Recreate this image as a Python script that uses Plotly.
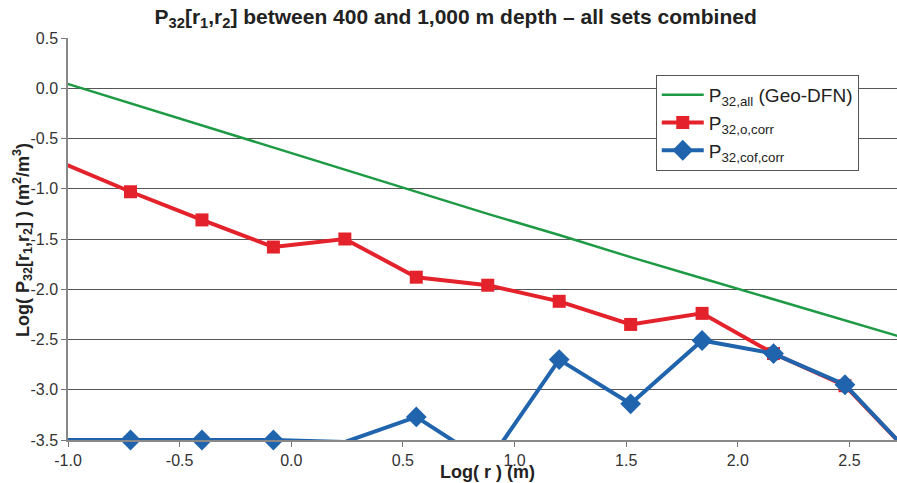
import plotly.graph_objects as go

# log10 of fracture radius bin centres (m)
log_r = [-1.04, -0.72, -0.40, -0.08, 0.24, 0.56, 0.88, 1.20, 1.52, 1.84, 2.16, 2.48, 2.80]

# log10 P32 (m2/m3) for each series
p32_all = [0.07, -0.15, -0.37, -0.59, -0.81, -1.03, -1.25, -1.46, -1.68, -1.89, -2.10, -2.31, -2.52]
p32_o_corr = [-0.73, -1.03, -1.31, -1.58, -1.50, -1.88, -1.96, -2.12, -2.35, -2.24, -2.64, -2.96, -3.70]
p32_cof_corr = [-3.50, -3.50, -3.50, -3.50, -3.52, -3.27, -3.73, -2.70, -3.14, -2.51, -2.64, -2.95, -3.70]

x_ticks = [-1.0, -0.5, 0.0, 0.5, 1.0, 1.5, 2.0, 2.5]
y_ticks = [0.5, 0.0, -0.5, -1.0, -1.5, -2.0, -2.5, -3.0, -3.5]

GREEN = "#1e9a45"
RED = "#e4222b"
BLUE = "#1f64ad"
FONT = "Liberation Sans, Arial, sans-serif"

fig = go.Figure()
fig.add_trace(go.Scatter(
    x=log_r, y=p32_all, mode="lines",
    name="P<sub>32,all</sub> (Geo-DFN)",
    line=dict(color=GREEN, width=2.5),
))
fig.add_trace(go.Scatter(
    x=log_r, y=p32_o_corr, mode="lines+markers",
    name="P<sub>32,o,corr</sub>",
    line=dict(color=RED, width=4),
    marker=dict(symbol="square", size=13, color=RED),
    cliponaxis=False,
))
fig.add_trace(go.Scatter(
    x=log_r, y=p32_cof_corr, mode="lines+markers",
    name="P<sub>32,cof,corr</sub>",
    line=dict(color=BLUE, width=4),
    marker=dict(symbol="diamond", size=16, color=BLUE),
    cliponaxis=False,
))

fig.update_layout(
    width=897, height=483,
    margin=dict(l=68, r=0, t=38, b=43),
    paper_bgcolor="white", plot_bgcolor="white",
    font=dict(family=FONT, size=16, color="#333333"),
    title=dict(
        text="P<sub>32</sub>[r<sub>1</sub>,r<sub>2</sub>] between 400 and 1,000 m depth \u2013 all sets combined",
        x=0.508, xanchor="center", y=0.966, yanchor="middle",
        font=dict(family=FONT, size=21, color="#222222", weight="bold"),
    ),
    legend=dict(
        x=0.709, y=0.908, xanchor="left", yanchor="top",
        bgcolor="white", bordercolor="#555555", borderwidth=1,
        font=dict(family=FONT, size=19, color="#222222"),
        tracegroupgap=0, itemwidth=42,
    ),
    showlegend=True,
)

# axis titles placed as annotations in paper coordinates
fig.add_annotation(
    text="<b>Log( r ) (m)</b>", xref="paper", yref="paper",
    x=0.5066, y=-0.08, xanchor="center", yanchor="middle", showarrow=False,
    font=dict(family=FONT, size=18, color="#222222"),
)
fig.add_annotation(
    text="<b>Log( P<sub>32</sub>[r<sub>1</sub>,r<sub>2</sub>] ) (m<sup>2</sup>/m<sup>3</sup>)</b>",
    xref="paper", yref="paper", x=-0.0555, y=0.4975,
    xanchor="center", yanchor="middle", textangle=-90, showarrow=False,
    font=dict(family=FONT, size=18, color="#222222"),
)

fig.update_xaxes(
    range=[-1.0, 2.713],
    tickvals=x_ticks, ticktext=[f"{v:.1f}" for v in x_ticks],
    showgrid=False, zeroline=False,
    showline=True, linecolor="#888888", linewidth=1.5,
    ticks="outside", ticklen=5, tickcolor="#777777",
    tickfont=dict(size=16, color="#333333"),
)
fig.update_yaxes(
    range=[-3.5, 0.5],
    tickvals=y_ticks, ticktext=[f"{v:.1f}" for v in y_ticks],
    showgrid=True, gridcolor="#555555", gridwidth=1,
    zeroline=False,
    showline=True, linecolor="#888888", linewidth=1.5,
    ticks="outside", ticklen=5, tickcolor="#777777",
    tickfont=dict(size=16, color="#333333"),
)

fig.write_html("out.html")
